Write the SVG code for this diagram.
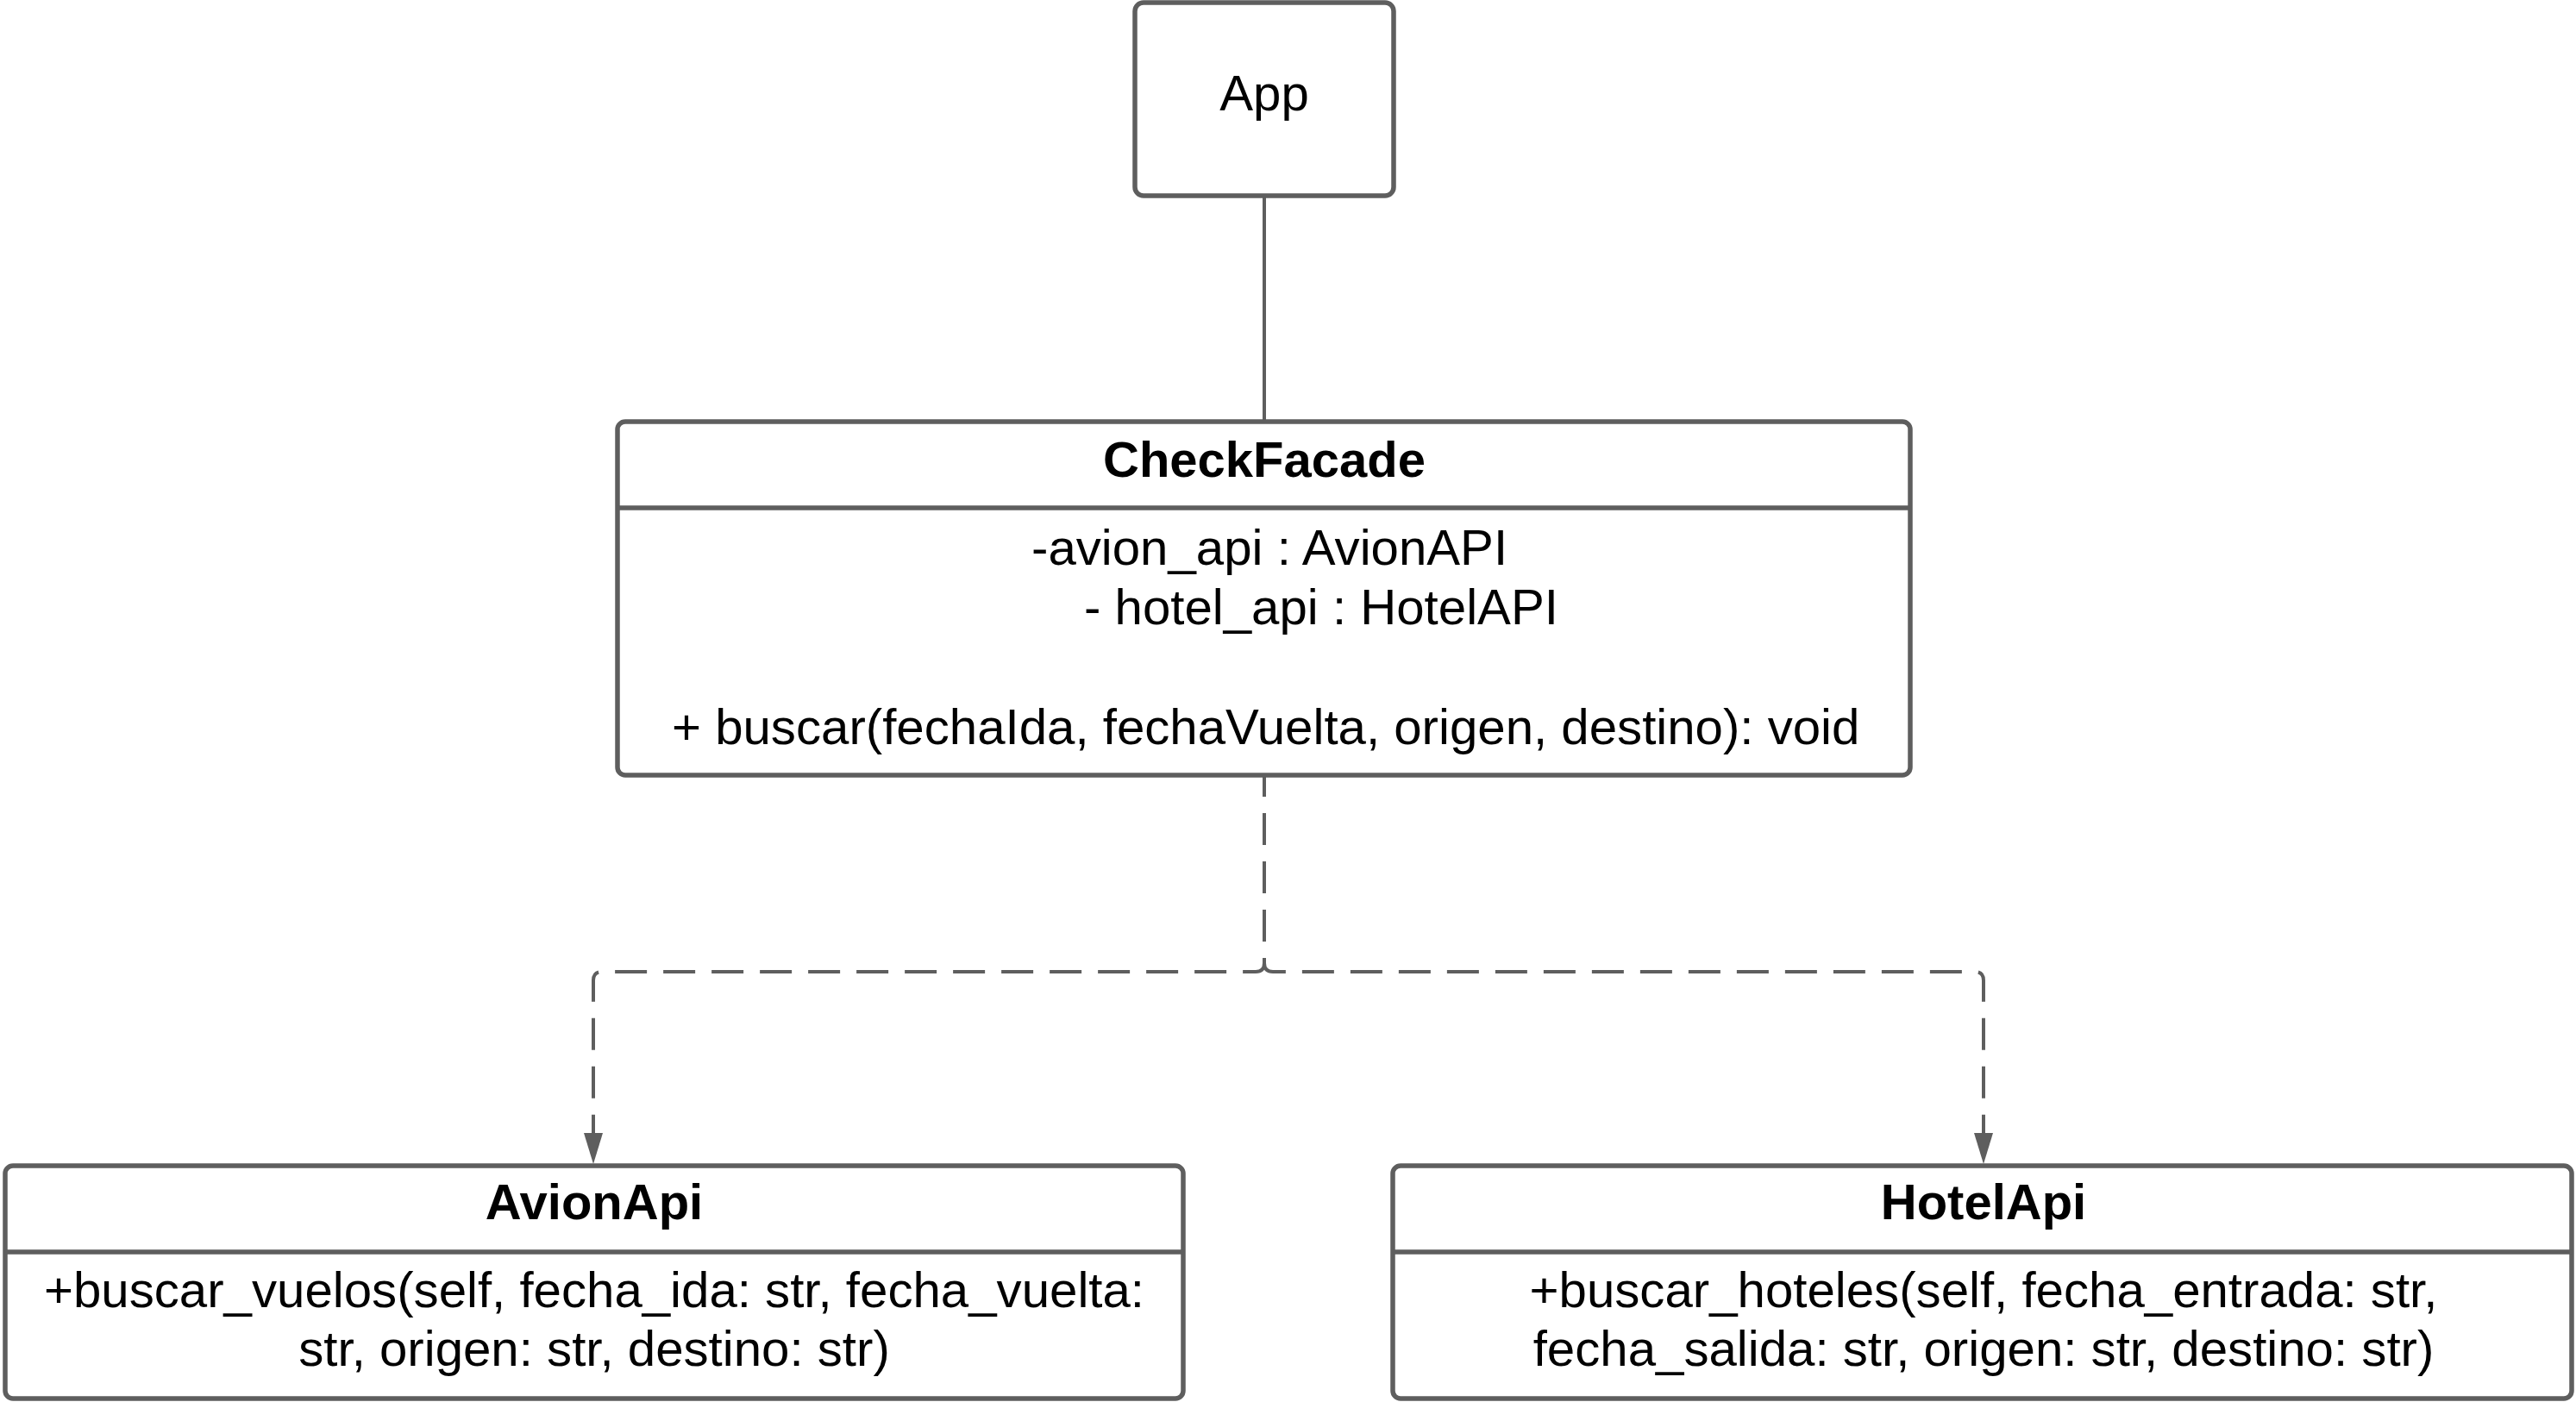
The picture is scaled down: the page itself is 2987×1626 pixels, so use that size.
<svg xmlns="http://www.w3.org/2000/svg" width="2987" height="1626" viewBox="0 0 2987 1626">
<style>
.box{fill:#ffffff;stroke:#5e5e5e;stroke-width:5.5}
.div{stroke:#5e5e5e;stroke-width:5.5}
.t{font-family:"Liberation Sans",Arial,sans-serif;font-size:58.2px;fill:#000000}
.b{font-family:"Liberation Sans",Arial,sans-serif;font-size:58px;font-weight:bold;fill:#000000}
.c{text-anchor:middle}
.solid{fill:none;stroke:#5e5e5e;stroke-width:4}
.dash{fill:none;stroke:#5e5e5e;stroke-width:4;stroke-dasharray:37 19;stroke-dashoffset:14}
</style>
<rect width="2987" height="1626" fill="#ffffff"/>
<g id="connectors">
<path class="solid" d="M1466,229 V487"/>
<path class="dash" d="M1466,901 V1117 Q1466,1127 1456,1127 H698 Q688,1127 688,1137 V1314"/>
<path class="dash" d="M1466,901 V1117 Q1466,1127 1476,1127 H2290 Q2300,1127 2300,1137 V1314"/>
<path d="M677,1314 L699,1314 L688,1350 Z" fill="#5e5e5e"/>
<path d="M2289,1314 L2311,1314 L2300,1350 Z" fill="#5e5e5e"/>
</g>
<g id="App">
<rect class="box" x="1316" y="3" width="300" height="224" rx="10"/>
<text class="t c" x="1466" y="128">App</text>
</g>
<g id="CheckFacade">
<rect class="box" x="716" y="489" width="1499" height="410" rx="9"/>
<line class="div" x1="716" y1="589" x2="2215" y2="589"/>
<text class="b c" x="1466" y="553">CheckFacade</text>
<text class="t" x="1196" y="655">-avion_api : AvionAPI</text>
<text class="t" x="1257" y="724">- hotel_api : HotelAPI</text>
<text class="t" x="779" y="863">+ buscar(fechaIda, fechaVuelta, origen, destino): void</text>
</g>
<g id="AvionApi">
<rect class="box" x="6" y="1352" width="1366" height="270" rx="9"/>
<line class="div" x1="6" y1="1452" x2="1372" y2="1452"/>
<text class="b c" x="689" y="1414">AvionApi</text>
<text class="t c" x="689" y="1516">+buscar_vuelos(self, fecha_ida: str, fecha_vuelta:</text>
<text class="t c" x="689" y="1584">str, origen: str, destino: str)</text>
</g>
<g id="HotelApi">
<rect class="box" x="1615" y="1352" width="1367" height="270" rx="9"/>
<line class="div" x1="1615" y1="1452" x2="2982" y2="1452"/>
<text class="b c" x="2300" y="1414">HotelApi</text>
<text class="t c" x="2300" y="1516">+buscar_hoteles(self, fecha_entrada: str,</text>
<text class="t c" x="2300" y="1584">fecha_salida: str, origen: str, destino: str)</text>
</g>
</svg>
